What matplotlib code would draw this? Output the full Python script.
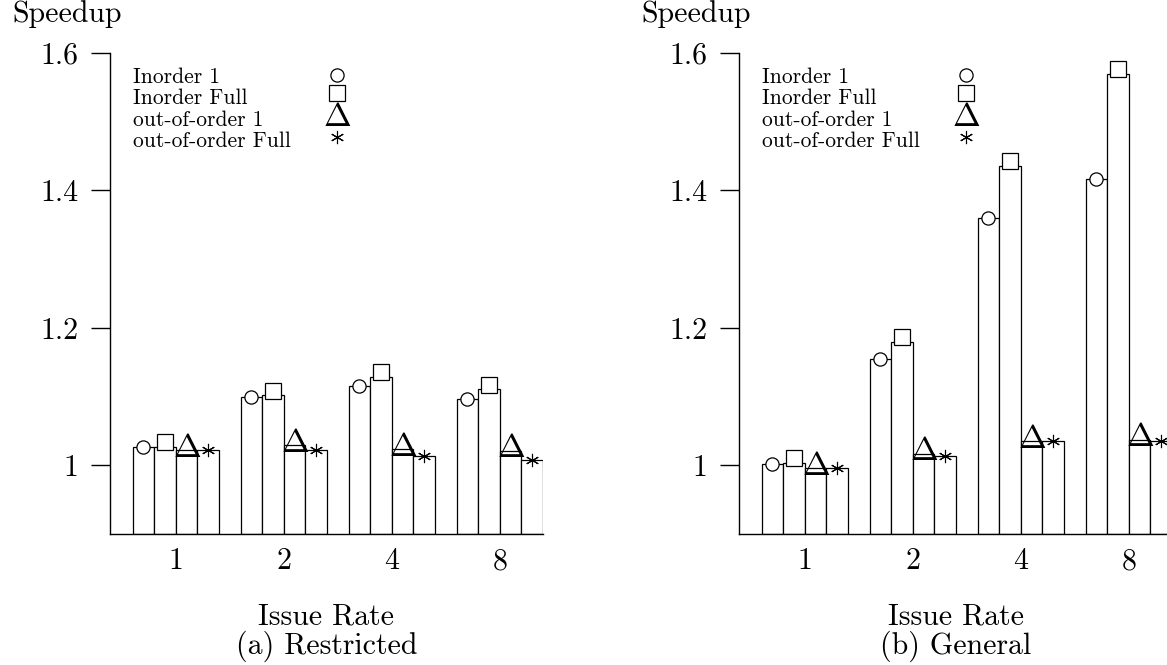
import numpy as np
import matplotlib
matplotlib.use("Agg")
import matplotlib.pyplot as plt
from matplotlib import transforms

plt.rcParams["font.family"] = ["cmr10", "DejaVu Serif"]
plt.rcParams["mathtext.fontset"] = "cm"
plt.rcParams["axes.formatter.use_mathtext"] = True

# data
issue_rates = ["1", "2", "4", "8"]
series_names = ["Inorder 1", "Inorder Full", "out-of-order 1", "out-of-order Full"]

restricted_inorder1 = [1.026, 1.099, 1.116, 1.097]
restricted_inorder_full = [1.027, 1.102, 1.129, 1.111]
restricted_ooo1 = [1.022, 1.029, 1.023, 1.021]
restricted_ooo_full = [1.022, 1.022, 1.013, 1.008]

general_inorder1 = [1.002, 1.155, 1.360, 1.416]
general_inorder_full = [1.0035, 1.180, 1.436, 1.570]
general_ooo1 = [0.996, 1.017, 1.035, 1.037]
general_ooo_full = [0.996, 1.013, 1.036, 1.036]

ytick_vals = [1.0, 1.2, 1.4, 1.6]
ytick_labels = ["1", "1.2", "1.4", "1.6"]

FS = 21.5
LEG_FS = 15.5
DELTA_FS = 24
bar_w = 0.2
offsets = [-0.3, -0.1, 0.1, 0.3]

fig = plt.figure(figsize=(11.67, 6.65), dpi=100)


def shifted(ax, dy):
    return transforms.offset_copy(ax.transData, fig=fig, x=0, y=dy, units="dots")


def marker_circle(ax, tr, x, y):
    ax.plot(x, y, "o", ms=9.5, mfc="white", mec="black", mew=0.9,
            transform=tr, clip_on=False, zorder=5)


def marker_square(ax, tr, x, y):
    ax.plot(x, y, "s", ms=11.5, mfc="white", mec="black", mew=0.9,
            transform=tr, clip_on=False, zorder=5)


def marker_star(ax, tr, x, y):
    ax.plot(x, y, marker=(6, 2, 0), ms=9.5, mec="black", mew=0.8, ls="none",
            transform=tr, clip_on=False, zorder=5)


def panel(rect, data, caption):
    ax = fig.add_axes(rect)
    x = np.arange(len(issue_rates))
    for k, vals in enumerate(data):
        ax.bar(x + offsets[k], np.array(vals) - 0.9, bar_w, bottom=0.9,
               color="white", edgecolor="black", linewidth=0.9, zorder=2)

    xs = [x + o for o in offsets]
    marker_circle(ax, ax.transData, xs[0], data[0])
    marker_square(ax, shifted(ax, 4.5), xs[1], data[1])
    for xi, v in zip(xs[2], data[2]):
        ax.annotate(r"$\Delta$", xy=(xi, v), xytext=(0, -6.5),
                    textcoords="offset pixels", ha="center", va="baseline",
                    fontsize=DELTA_FS, zorder=6, annotation_clip=False)
    marker_star(ax, ax.transData, xs[3], data[3])

    ax.set_xlim(-0.61, 3.4)
    ax.set_ylim(0.9, 1.6)
    ax.set_xticks(x)
    ax.set_xticklabels(issue_rates, fontsize=FS)
    ax.set_yticks(ytick_vals)
    ax.set_yticklabels(ytick_labels, fontsize=FS)
    ax.tick_params(axis="x", length=0, pad=10)
    ax.tick_params(axis="y", direction="out", length=13.5, width=1, pad=9)
    for s in ["top", "right"]:
        ax.spines[s].set_visible(False)
    ax.spines["left"].set_linewidth(1.0)
    ax.spines["bottom"].set_linewidth(1.0)
    ax.set_xlabel("Issue Rate\n" + caption, fontsize=FS, linespacing=1.0, labelpad=20)

    ax.annotate("Speedup", xy=(0, 1), xycoords="axes fraction",
                xytext=(-98, 31), textcoords="offset pixels",
                ha="left", va="baseline", fontsize=FS)

    # legend, drawn by hand: labels on the left, symbols on the right
    rows = [30, 51, 73, 94]
    for name, dy in zip(series_names, rows):
        ax.annotate(name, xy=(0, 1), xycoords="axes fraction",
                    xytext=(23, -dy), textcoords="offset pixels",
                    ha="left", va="baseline", fontsize=LEG_FS)
    mx = 227
    marker_circle(ax, transforms.offset_copy(ax.transAxes, fig=fig, x=mx, y=-22, units="dots"), [0], [1])
    marker_square(ax, transforms.offset_copy(ax.transAxes, fig=fig, x=mx, y=-40, units="dots"), [0], [1])
    ax.annotate(r"$\Delta$", xy=(0, 1), xycoords="axes fraction",
                xytext=(mx, -73), textcoords="offset pixels",
                ha="center", va="baseline", fontsize=DELTA_FS)
    marker_star(ax, transforms.offset_copy(ax.transAxes, fig=fig, x=mx, y=-84, units="dots"), [0], [1])
    return ax


panel([110 / 1167, 1 - 534 / 665, 433 / 1167, 481 / 665],
      [restricted_inorder1, restricted_inorder_full, restricted_ooo1, restricted_ooo_full],
      "(a) Restricted")
panel([739 / 1167, 1 - 534 / 665, 433 / 1167, 481 / 665],
      [general_inorder1, general_inorder_full, general_ooo1, general_ooo_full],
      "(b) General")

fig.savefig("out.png", dpi=100)
